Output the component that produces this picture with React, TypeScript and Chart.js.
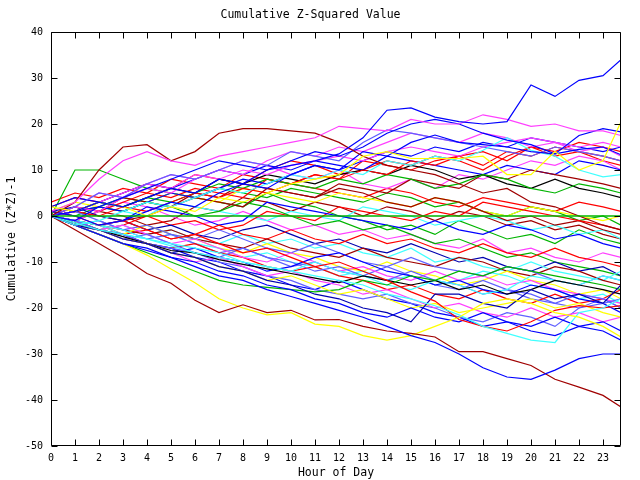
import React, { useEffect, useRef } from "react";
import { Chart, registerables } from "chart.js";

Chart.register(...registerables);

const TITLE = "Cumulative Z-Squared Value";
const X_TITLE = "Hour of Day";
const Y_TITLE = "Cumulative (Z*Z)-1";

const HOURS = [0, 1, 2, 3, 4, 5, 6, 7, 8, 9, 10, 11, 12, 13, 14, 15, 16, 17, 18, 19, 20, 21, 22, 23, 23.75];
const X_TICKS = [0, 1, 2, 3, 4, 5, 6, 7, 8, 9, 10, 11, 12, 13, 14, 15, 16, 17, 18, 19, 20, 21, 22, 23];
const Y_TICKS = [-50, -40, -30, -20, -10, 0, 10, 20, 30, 40];
const ZERO = [0, 0, 0, 0, 0, 0, 0, 0, 0, 0, 0, 0, 0, 0, 0, 0, 0, 0, 0, 0, 0, 0, 0, 0, 0];

const S01 = [0, 1, 3, 2, 4, 6, 5, 8, 7, 10, 11, 12, 13.5, 17, 23, 23.5, 21.5, 20.5, 20, 20.5, 28.5, 26, 29.5, 30.5, 34];
const S02 = [2, 1, 3, 2, 0, 2, 1, 4, 3, 5, 7, 8, 9, 13, 14, 12.5, 12.5, 12.5, 13, 9, 9, 14, 10, 12, 20.5];
const S03 = [1, 3, 8, 12, 14, 12, 11, 13, 14, 15, 16, 17, 19.5, 19, 18.5, 21, 20, 20, 22, 21, 19.5, 20, 18.5, 18.5, 17.5];
const S04 = [0, 3, 10, 15, 15.5, 12, 14, 18, 19, 19, 18.5, 18, 16, 13, 11, 10, 9, 7, 5, 6, 3, 2, 0, -2, -3];
const S05 = [0, 10, 10, 8, 6, 5, 4, 3, 2, 5, 3, 2, 0, -1, -3, -2, -4, -1, -3, -5, -4, -6, -3, -5, -6];
const S06 = [0, -1, 2, 4, 6, 8, 10, 12, 11, 10, 12, 14, 13, 15, 18, 20, 21, 20, 18, 16.5, 15.5, 13.5, 17.5, 19, 18.3];
const S07 = [0, -2, -1, 1, 3, 2, 4, 6, 5, 7, 9, 8, 10, 9, 12, 11, 13, 12, 14.3, 17, 14.3, 13, 10, 8.5, 9];
const S08 = [1, 0, -2, -1, 1, 3, 2, 5, 7, 6, 9, 11, 10, 14, 13, 16, 17.6, 16, 15.5, 15, 14, 13.5, 14.5, 15, 13.3];
const S09 = [2, 4, 3, 5, 7, 6, 9, 8, 7, 10, 12, 11, 9, 10, 12, 11, 13, 12, 10, 13, 15, 13, 14, 12, 11];
const S10 = [0, 2, 5, 4, 7, 9, 8, 10, 12, 11, 9, 8, 10, 7, 6, 8, 6, 9, 8, 10, 12, 11, 13, 12, 10];
const S11 = [0, -3, -6, -9, -12.5, -14.6, -18.3, -21, -19.3, -21, -20.5, -22.6, -22.5, -24, -25, -25.5, -26.3, -29.5, -29.5, -31, -32.5, -35.5, -37.2, -39, -41.5];
const S12 = [0, -2, -4, -6, -8.5, -11.5, -14.5, -18, -20, -21.5, -21, -23.5, -24, -26, -27, -26, -24, -22, -19, -18, -19, -21, -22, -24, -26.3];
const S13 = [0, -2, -4, -6, -7.5, -9, -11, -13, -14, -16, -17.5, -19, -20.5, -22, -24, -26, -27.5, -30, -33, -35, -35.5, -33.5, -31, -30, -30];
const S14 = [0, -1.5, -3, -4, -5, -6.5, -8, -9, -10, -11, -12, -13, -14, -15, -17, -18, -19.5, -21.5, -24, -25.5, -27, -27.5, -21, -20, -18];
const S15 = [1, 0, -2, -1, -3, -5, -4, -6, -8, -7, -9, -11, -10, -12, -14, -16.5, -18.5, -22.5, -24, -25, -23, -20.5, -19.5, -20, -19.5];
const S16 = [0, -2, -3, -5, -6, -8, -9, -11, -12, -14, -15, -17, -18, -20, -21, -23, -17, -17, -19, -20, -16, -18, -17, -19, -15];
const S17 = [0, -1.5, -3, -4.5, -6, -7.5, -8, -9.5, -10.5, -11.5, -12.5, -13.5, -14.5, -13, -14, -15, -14, -16, -15, -17, -16, -14, -15, -16, -17];
const S18 = [3, 5, 4, 6, 5, 8, 7, 6, 9, 8, 7, 6, 5, 4, 6, 5, 3, 2, 4, 3, 2, 1, 3, 2, 1];
const S19 = [0, -1, -2, -1, 2, 1, 0, -2, -1, 3, 2, 1, 0, -1, -2, -3, -1, -3, -4, -2, -3, -5, -4, -6, -7];
const S20 = [0, 1, -1, -3, -2, -4, -5, -3, -5, -7, -8, -6, -8, -10, -11, -9, -11, -12, -13, -11, -12, -14, -15, -13, -14];
const S21 = [0, -2, -4, -6, -8, -10, -12, -14, -15, -15.5, -16, -16.5, -16, -14, -15, -13, -14, -12, -13, -11, -12, -13, -14, -15, -16];
const S22 = [1, 0, 2, 1, 3, 2, 0, 1, 3, 2, 0, -2, -1, -3, -2, -4, -6, -5, -7, -9, -8, -10, -11, -12, -13];
const S23 = [0, -1, 1, 3, 2, 0, -2, -1, 1, -1, -3, -2, -4, -3, -5, -4, -6, -7, -5, -8, -7, -9, -10, -8, -9];
const S24 = [0, -1, -3, -2, -4, -3, -5, -6, -4, -6, -5, -7, -6, -8, -9, -7, -10, -9, -11, -12, -10, -12, -13, -14, -12];
const S25 = [0, -2, -3, -5, -6, -8, -9, -11, -12, -14, -13, -15, -17, -16, -18, -20, -19, -21, -20, -19, -18, -20, -19, -21, -22];
const S26 = [0, 2, 1, 3, 5, 4, 6, 5, 4, 8, 7, 9, 8, 12, 11, 10, 12, 13, 11, 14, 13, 15, 14, 13, 12];
const S27 = [2, 4, 3, 5, 7, 6, 8, 10, 9, 11, 10, 12, 11, 10, 13, 12, 11, 10, 9, 11, 10, 9, 12, 11, 10];
const S28 = [0, -1, 1, 0, -2, -1, 2, 1, 4, 3, 1, 3, 2, 0, 2, 1, -1, 1, 0, -2, -1, -3, -2, -4, -5];
const S29 = [0, -2, -3, -5, -4, -6, -8, -9, -7, -9, -10, -12, -11, -13, -14, -12, -14, -15, -17, -16, -18, -19, -17, -18, -20];
const S30 = [0, -1, -3, -2, -4, -6, -5, -7, -9, -10, -8, -10, -12, -11, -13, -14, -12, -14, -13, -15, -14, -16, -17, -18, -19];
const S31 = [1, 0, 2, 1, 0, 3, 2, 1, 0, -1, 1, 0, -1, 2, 1, 0, -2, -1, 0, -1, -3, -2, -4, -3, -5];
const S32 = [0, -1, -2, -4, -3, -5, -4, -2, -4, -5, -3, -5, -6, -4, -6, -5, -7, -8, -6, -8, -9, -7, -9, -10, -11];
const S33 = [0, -2, -4, -6, -7, -9, -10, -12, -13, -15, -16, -18, -19, -21, -22, -20, -22, -23, -21, -23, -24, -22, -24, -23, -25];
const S34 = [1, 3, 2, 1, 3, 5, 4, 3, 6, 5, 4, 3, 5, 4, 3, 2, 4, 3, 1, 0, 2, 1, 0, -1, 0];
const S35 = [0, 1, 2, 4, 3, 5, 4, 6, 5, 4, 6, 5, 4, 3, 5, 4, 2, 3, 1, 0, 2, 1, -1, 0, -2];
const S36 = [0, 2, 1, 4, 3, 2, 5, 4, 7, 6, 5, 4, 6, 5, 3, 2, 4, 3, 1, -1, 0, -2, -1, -3, -4];
const S37 = [0, 2, 5, 4, 7, 9, 8, 10, 12, 11, 14, 13, 12, 16, 18.7, 18, 17, 16, 15, 14, 13, 15, 14, 13, 12];
const S38 = [0, 1, 3, 5, 7, 6, 9, 8, 10, 9, 11, 12, 13, 12, 14, 15, 14, 13, 15, 16, 17, 16, 15, 16, 15];
const S39 = [0, 1, 3, 2, 4, 6, 5, 8, 7, 9, 8, 7, 9, 10, 9, 11, 10, 8, 9, 7, 6, 8, 6, 5, 4];
const S40 = [0, -1, -3, -2, 0, -2, -1, -3, -2, 1, 0, -1, 2, 1, 0, -1, 1, 0, 3, 2, 1, 0, -1, -2, -3];
const S41 = [0, -2, -3, -5, -6, -8, -7, -9, -10, -12, -11, -9, -8, -10, -12, -13, -15, -14, -16, -17, -15, -16, -18, -19, -21];
const S42 = [0, -1, -2, -3, -5, -6, -7, -8, -10, -11, -12, -10, -12, -13, -15, -16, -14, -15, -17, -16, -13, -14, -15, -13, -14];
const S43 = [0, 1, 0, -1, 0, 2, 4, 3, 2, 6, 5, 4, 7, 6, 5, 8, 7, 6, 9, 8, 10, 9, 8, 7, 6];
const S44 = [0, -1, -3, -4, -6, -7, -8, -10, -11, -13, -14, -16, -17, -18, -17, -19, -20, -22, -23, -21, -22, -24, -20, -19, -18];
const S45 = [1, 2, 0, -1, -3, -2, -4, -5, -3, -2, -4, -6, -5, -7, -8, -6, -8, -10, -9, -11, -12, -10, -12, -11, -13];
const S46 = [0, -2, -3, -5, -6, -8, -10, -9, -11, -13, -12, -14, -15, -17, -16, -18, -20, -19, -21, -22, -20, -22, -21, -23, -22];
const S47 = [0, 2, 1, 4, 6, 5, 8, 10, 9, 12, 14, 13, 15, 14, 16, 18, 17, 16, 18, 17, 15, 16, 14, 15, 13];
const S48 = [0, 1, 0, 2, 1, 3, 5, 4, 6, 5, 7, 9, 8, 10, 9, 12, 11, 13, 14, 12, 15, 14, 16, 15, 14];
const S49 = [0, -1, -2, -4, -5, -4, -6, -7, -9, -8, -10, -11, -13, -12, -14, -13, -15, -14, -12, -13, -15, -16, -18, -17, -19];
const S50 = [0, -1, -3, -4, -6, -7, -9, -10, -12, -13, -15, -16, -14, -16, -18, -19, -21, -22, -24, -23, -25, -26, -24, -25, -27];
const S51 = [0, -2, -1, -3, -5, -4, -6, -8, -7, -9, -11, -10, -12, -13, -11, -13, -15, -16, -14, -16, -17, -19, -20, -18, -20];
const S52 = [0, -1, -3, -4, -2, -4, -5, -7, -8, -6, -8, -9, -11, -12, -10, -12, -13, -15, -14, -12, -14, -15, -17, -16, -18];
const S53 = [0, 1, 3, 2, 4, 3, 5, 7, 6, 8, 7, 6, 8, 7, 9, 8, 6, 7, 9, 8, 6, 5, 7, 6, 5];
const S54 = [0, -1, -2, -3, -4, -3, -5, -6, -7, -5, -7, -8, -9, -7, -9, -10, -11, -9, -10, -12, -13, -11, -12, -14, -15];
const S55 = [0, -2, -3, -4, -6, -7, -6, -8, -9, -11, -12, -11, -13, -14, -16, -15, -17, -18, -16, -18, -19, -17, -19, -18, -16];
const S56 = [0, 1, 2, 1, 3, 5, 4, 6, 8, 7, 9, 11, 10, 12, 14, 13, 15, 14, 16, 15, 17, 16, 15, 14, 15];

const RED = "#ff0000";
const GREEN = "#00b400";
const BLUE = "#0000ff";
const MAGENTA = "#ff40ff";
const CYAN = "#40ffff";
const DARKRED = "#a00000";
const YELLOW = "#ffff00";
const BLACK = "#000000";
const SLATE = "#6060ff";
const NAVY = "#0000b0";

const SERIES = [
  S18, S28, S09, S05, S10, S35, S23, S31, S34, S36, S40, S19, S22, S26, S27, S43, S39, S45, S24, S32,
  S53, S54, S52, S49, S51, S55, S48, S56, S47, S50,
  S20, S30, S29, S41, S42, S44, S46, S17, S21, S25, S33, S16, S15, S14, S12, S11, S13, S38, S37, S07,
  S08, S06, S04, S03, S02, S01,
];
const COLORS = [
  RED, DARKRED, RED, GREEN, MAGENTA, GREEN, MAGENTA, CYAN, YELLOW, DARKRED, RED, BLUE, GREEN, RED, BLUE, DARKRED, BLACK, NAVY, CYAN, RED,
  GREEN, DARKRED, YELLOW, CYAN, SLATE, RED, RED, BLUE, MAGENTA, BLUE,
  SLATE, MAGENTA, SLATE, BLUE, CYAN, SLATE, MAGENTA, BLACK, GREEN, YELLOW, BLUE, NAVY, RED, CYAN, YELLOW, DARKRED, BLUE, MAGENTA, SLATE, CYAN,
  BLUE, BLUE, DARKRED, MAGENTA, YELLOW, BLUE,
];

const MONO = "'DejaVu Sans Mono', monospace";

const framePlugin = {
  id: "gnuframe",
  afterDraw(chart: any) {
    const { ctx, chartArea } = chart;
    const { left, right, top, bottom } = chartArea;
    const xs = chart.scales.x;
    const ys = chart.scales.y;
    const L = Math.round(left) + 0.5;
    const R = Math.round(right) - 0.5;
    const T = Math.round(top) + 0.5;
    const B = Math.round(bottom) - 0.5;
    ctx.save();
    ctx.strokeStyle = "#000";
    ctx.lineWidth = 1;
    ctx.beginPath();
    ctx.rect(L, T, R - L, B - T);
    for (const v of X_TICKS) {
      const px = Math.round(xs.getPixelForValue(v)) + 0.5;
      ctx.moveTo(px, B);
      ctx.lineTo(px, B - 6);
      ctx.moveTo(px, T);
      ctx.lineTo(px, T + 6);
    }
    for (const v of Y_TICKS) {
      const py = Math.round(ys.getPixelForValue(v)) + 0.5;
      ctx.moveTo(L, py);
      ctx.lineTo(L + 6, py);
      ctx.moveTo(R, py);
      ctx.lineTo(R - 6, py);
    }
    ctx.stroke();
    ctx.restore();
  },
};

export default function App() {
  const ref = useRef<HTMLCanvasElement | null>(null);

  useEffect(() => {
    if (!ref.current) return;
    const datasets: any[] = [
      {
        data: ZERO.map((v, i) => ({ x: HOURS[i], y: v })),
        borderColor: GREEN,
        borderWidth: 1.5,
      },
    ];
    SERIES.slice().reverse().forEach((s, idx) => {
      const ci = SERIES.length - 1 - idx;
      datasets.push({
        data: s.map((v, i) => ({ x: HOURS[i], y: v })),
        borderColor: COLORS[ci],
        borderWidth: 1.2,
      });
    });

    const chart = new Chart(ref.current, {
      type: "line",
      data: { datasets },
      options: {
        animation: false,
        responsive: false,
        maintainAspectRatio: false,
        devicePixelRatio: 1,
        layout: { padding: { left: 0, right: 19, top: 0, bottom: 0 } },
        elements: {
          point: { radius: 0, hoverRadius: 0 },
          line: { tension: 0, fill: false },
        },
        plugins: {
          legend: { display: false },
          tooltip: { enabled: false },
          title: {
            display: true,
            text: TITLE,
            color: "#000",
            font: { family: MONO, size: 11.5, weight: "normal" },
            padding: { top: 8, bottom: 10.2 },
          },
        },
        scales: {
          x: {
            type: "linear",
            min: 0,
            max: 23.75,
            grid: { display: false, drawTicks: false },
            border: { display: false },
            ticks: {
              stepSize: 1,
              autoSkip: false,
              maxRotation: 0,
              minRotation: 0,
              padding: 6,
              color: "#000",
              font: { family: MONO, size: 10 },
              callback: (v: any) => (Number.isInteger(v) ? String(v) : ""),
            },
            afterBuildTicks: (s: any) => {
              s.ticks = X_TICKS.map((v) => ({ value: v }));
            },
            afterFit: (s: any) => {
              s.height = 34;
            },
            title: {
              display: true,
              text: X_TITLE,
              color: "#000",
              font: { family: MONO, size: 11.5, weight: "normal" },
              padding: { top: 0, bottom: 0 },
            },
          },
          y: {
            type: "linear",
            min: -50,
            max: 40,
            grid: { display: false, drawTicks: false },
            border: { display: false },
            ticks: {
              stepSize: 10,
              padding: 8,
              color: "#000",
              font: { family: MONO, size: 10 },
            },
            afterBuildTicks: (s: any) => {
              s.ticks = Y_TICKS.map((v) => ({ value: v }));
            },
            afterFit: (s: any) => {
              s.width = 51;
            },
            title: {
              display: true,
              text: Y_TITLE,
              color: "#000",
              font: { family: MONO, size: 11.5, weight: "normal" },
              padding: { top: 5, bottom: 0 },
            },
          },
        },
      } as any,
      plugins: [framePlugin],
    });
    return () => chart.destroy();
  }, []);

  return (
    <div style={{ position: "fixed", left: 0, top: 0, width: 640, height: 480, background: "#fff" }}>
      <canvas ref={ref} width={640} height={480} style={{ display: "block", width: 640, height: 480 }} />
    </div>
  );
}
